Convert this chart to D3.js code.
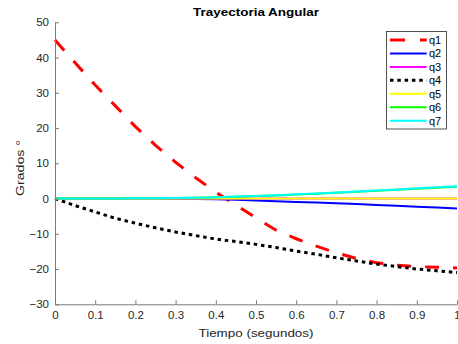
<!DOCTYPE html>
<html>
<head>
<meta charset="utf-8">
<script src="https://cdn.jsdelivr.net/npm/d3@7"></script>
<style>
  body { margin: 0; background: #fff; }
  svg { display: block; font-family: "Liberation Sans", Arial, sans-serif; }
</style>
</head>
<body>
<svg id="chart" width="458" height="344"></svg>
<script>
// time samples (s)
const tiempo = [0, 0.05, 0.1, 0.15, 0.2, 0.25, 0.3, 0.35, 0.4, 0.45, 0.5,
                0.55, 0.6, 0.65, 0.7, 0.75, 0.8, 0.85, 0.9, 0.95, 1];

// joint angles (deg)
const q1 = [45, 38.5, 32.2, 26.3, 20.4, 15.1, 10.3, 5.9, 1.8, -1.8, -5.5,
            -9.0, -11.4, -13.5, -15.4, -17.0, -18.2, -18.9, -19.3, -19.5, -19.7];
const q2 = [0, 0, 0, 0, 0, -0.02, -0.05, -0.1, -0.2, -0.35, -0.55,
            -0.75, -0.95, -1.15, -1.35, -1.55, -1.8, -2.05, -2.3, -2.55, -2.8];
const q3 = [0, 0, 0, 0, 0, 0, 0, 0, 0, 0, 0,
            0, 0, 0, 0, 0, 0, 0, 0, 0, 0];
const q4 = [0, -2.0, -3.8, -5.6, -7.0, -8.3, -9.5, -10.5, -11.5, -12.2, -13.0,
            -13.9, -14.9, -15.8, -16.8, -17.7, -18.6, -19.3, -20.0, -20.5, -21.0];
const q5 = [0, 0, 0, 0, 0, 0, 0, 0, 0, 0, 0,
            0, 0, 0, 0, 0, 0, 0, 0, 0, 0];
const q6 = [0, 0, 0, 0.02, 0.05, 0.09, 0.14, 0.23, 0.37, 0.52, 0.7,
            0.9, 1.13, 1.37, 1.62, 1.9, 2.18, 2.47, 2.76, 3.05, 3.35];
const q7 = [0, 0, 0, 0.02, 0.05, 0.1, 0.15, 0.25, 0.4, 0.55, 0.75,
            0.95, 1.2, 1.45, 1.7, 2.0, 2.3, 2.6, 2.9, 3.2, 3.5];

const xTicks = [0, 0.1, 0.2, 0.3, 0.4, 0.5, 0.6, 0.7, 0.8, 0.9, 1];
const yTicks = [-30, -20, -10, 0, 10, 20, 30, 40, 50];

const series = [
  { name: "q1", values: q1, color: "#ff0000", width: 3, dash: "14 14" },
  { name: "q2", values: q2, color: "#0000ff", width: 2, dash: null },
  { name: "q3", values: q3, color: "#ff00ff", width: 2, dash: null },
  { name: "q4", values: q4, color: "#000000", width: 3, dash: "3.5 3.8" },
  { name: "q5", values: q5, color: "#ffff00", width: 2, dash: null },
  { name: "q6", values: q6, color: "#00ff00", width: 2, dash: null },
  { name: "q7", values: q7, color: "#00ffff", width: 2, dash: null }
];

const svg = d3.select("#chart");
const axisColor = "#7a7a7a";
const textColor = "#262626";

const x = d3.scaleLinear().domain([0, 1]).range([55, 457]);
const y = d3.scaleLinear().domain([-30, 50]).range([304.3, 22.3]);

// lines
const line = d3.line()
  .x((d, i) => x(tiempo[i]))
  .y(d => y(d));

const plot = svg.append("g");
series.forEach(s => {
  plot.append("path")
    .datum(s.values)
    .attr("d", line)
    .attr("fill", "none")
    .attr("stroke", s.color)
    .attr("stroke-width", s.width)
    .attr("stroke-dasharray", s.dash);
});

// axes (ticks pointing inward, MATLAB style)
const xAxis = svg.append("g")
  .attr("transform", `translate(0,${y(-30)})`)
  .call(d3.axisBottom(x).tickValues(xTicks).tickSizeInner(-4).tickSizeOuter(0)
    .tickPadding(7).tickFormat(d3.format("~g")));
const yAxis = svg.append("g")
  .attr("transform", `translate(${x(0)},0)`)
  .call(d3.axisLeft(y).tickValues(yTicks).tickSizeInner(-4).tickSizeOuter(0)
    .tickPadding(6));

[xAxis, yAxis].forEach(a => {
  a.select(".domain").attr("stroke", axisColor);
  a.selectAll(".tick line").attr("stroke", axisColor);
  a.selectAll(".tick text")
    .attr("fill", textColor)
    .attr("font-size", 11.5)
    .attr("font-family", "Liberation Sans, Arial, sans-serif");
});

// title and labels
svg.append("text")
  .attr("x", 256).attr("y", 16)
  .attr("text-anchor", "middle")
  .attr("font-size", 11.5).attr("font-weight", "bold")
  .attr("textLength", 126).attr("lengthAdjust", "spacingAndGlyphs")
  .attr("fill", "#000")
  .text("Trayectoria Angular");

svg.append("text")
  .attr("x", 256).attr("y", 336.5)
  .attr("text-anchor", "middle")
  .attr("font-size", 11.5)
  .attr("textLength", 115).attr("lengthAdjust", "spacingAndGlyphs")
  .attr("fill", textColor)
  .text("Tiempo (segundos)");

svg.append("text")
  .attr("transform", "translate(24,168) rotate(-90)")
  .attr("text-anchor", "middle")
  .attr("font-size", 11.5)
  .attr("textLength", 56).attr("lengthAdjust", "spacingAndGlyphs")
  .attr("fill", textColor)
  .text("Grados °");

// legend
const legend = svg.append("g");
legend.append("rect")
  .attr("x", 386.5).attr("y", 31.5)
  .attr("width", 60).attr("height", 97.5)
  .attr("fill", "#fff")
  .attr("stroke", textColor)
  .attr("stroke-width", 0.8);

series.forEach((s, i) => {
  const ly = 40 + i * 13.45;
  legend.append("line")
    .attr("x1", 390).attr("x2", 426.7)
    .attr("y1", ly).attr("y2", ly)
    .attr("stroke", s.color)
    .attr("stroke-width", s.width)
    .attr("stroke-dasharray", s.dash === "14 14" ? "15 15" : s.dash);
  legend.append("text")
    .attr("x", 429).attr("y", ly)
    .attr("dy", "0.35em")
    .attr("font-size", 11)
    .attr("fill", "#000")
    .text(s.name);
});
</script>
</body>
</html>
